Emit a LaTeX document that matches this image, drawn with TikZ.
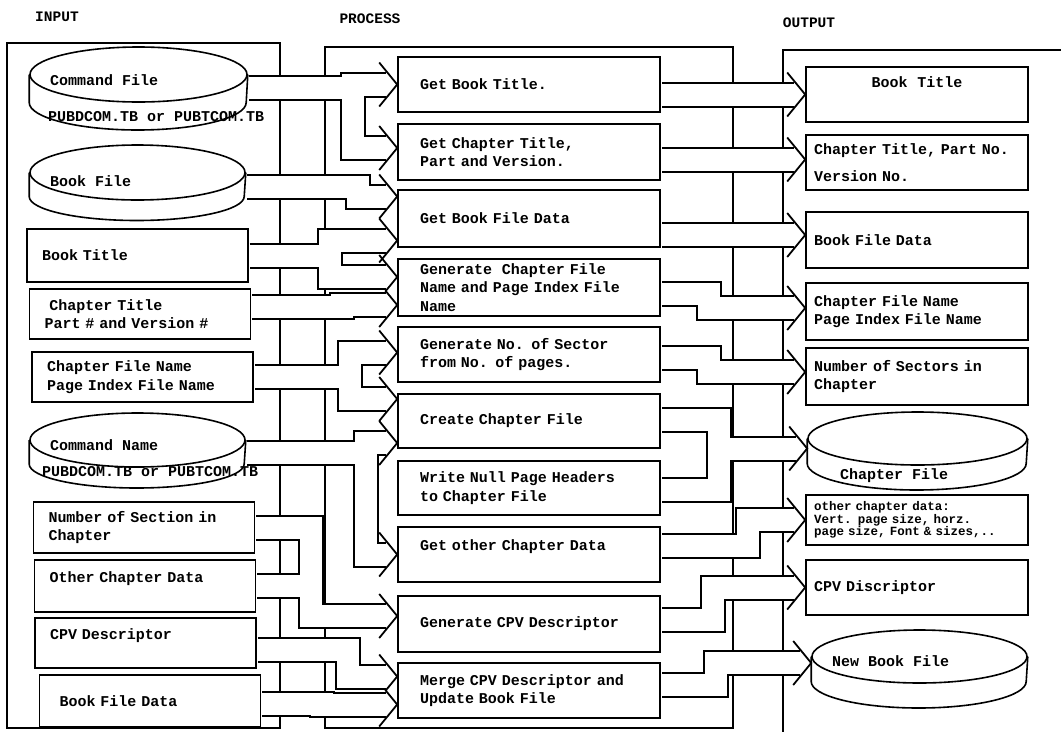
\documentclass[tikz,border=0pt]{standalone}
\usepackage{fontspec}
\setmonofont{Liberation Mono}
\usetikzlibrary{calc, shapes.geometric}

\tikzset{
  txt/.style={font=\fontsize{15}{18.5}\selectfont\ttfamily\bfseries},
  head/.style={font=\fontsize{14.5}{16}\selectfont\ttfamily\bfseries},
  frame/.style={draw, line width=1.6pt},
  inbox/.style={txt, draw, line width=1.6pt, minimum width=221pt, minimum height=51pt,
    text width=191pt, inner xsep=15pt, inner ysep=2pt, align=left},
  procbox/.style={txt, draw, line width=1.6pt, minimum width=262pt, minimum height=55pt,
    text width=218pt, inner xsep=22pt, inner ysep=2pt, align=left},
  outbox/.style={txt, draw, line width=1.6pt, minimum width=222pt, minimum height=55pt,
    text width=206pt, inner xsep=8pt, inner ysep=2pt, align=left},
  disk/.style={ellipse, draw, line width=1.6pt, inner sep=0pt},
  tag/.style={txt, inner sep=0pt, anchor=west},
  chev/.pic={\draw[line width=1.8pt] (-18,-22) -- (0,0) -- (-18,22);},
  zig/.pic={\draw[line width=1.8pt] (-18,-22) -- (0,0) -- (-11.5,14) -- (0,28) -- (-18,50);},
}

% wide HIPO arrows, drawn twice (black, then white core)
\newcommand\ribbons{%
  \draw[band] ($(cmdfile.east)+(1,13)$) -- ++(104,0) |- ($(p1.west)+(-11,0)$);
  \draw[band] ($(cmdfile.east)+(1,13)$) -- ++(104,0) |- ($(p2.west)+(-11,-4)$);
  \draw[band] ($(bookfile.east)+(1,14)$) -- ++(111,0) |- ($(p3.west)+(-11,-22)$);
  \draw[band] ($(bktitle_in.east)+(1,0)$) -- ++(80,0) |- ($(p3.west)+(-11,22)$);
  \draw[band] ($(bktitle_in.east)+(1,0)$) -- ++(80,0) |- ($(p4.west)+(-11,-10.5)$);
  \draw[band] ($(chtitle_in.east)+(1,-7)$) -- ++(90,0) |- ($(p4.west)+(-11,17.5)$);
  \draw[band] ($(chfname_in.east)+(1,0)$) -- ++(95,0) |- ($(p5.west)+(-11,-2)$);
  \draw[band] ($(chfname_in.east)+(1,0)$) -- ++(95,0) |- ($(p6.west)+(-11,-22)$);
  \draw[band] ($(cmdname.east)+(1,13)$) -- ++(119,0) |- ($(p6.west)+(-11,22)$);
  \draw[band] ($(cmdname.east)+(1,13)$) -- ++(119,0) |- ($(p8.west)+(-11,0)$);
  \draw[band] ($(nsec_in.east)+(1,0)$) -- ++(55,0) |- ($(p9.west)+(-11,-8)$);
  \draw[band] ($(othdata_in.east)+(1,0)$) -- ++(54,0) |- ($(p9.west)+(-11,-8)$);
  \draw[band] ($(cpv_in.east)+(1,7)$) -- ++(90,0) |- ($(p10.west)+(-11,-14)$);
  \draw[band] ($(bfdata_in.east)+(1,3)$) -- ++(60,0) |- ($(p10.west)+(-11,14)$);
  \draw[band] ($(p1.east)+(1,10)$) -- ($(o1.west)+(-11,0)$);
  \draw[band] ($(p2.east)+(1,7.5)$) -- ($(o2.west)+(-11,-3)$);
  \draw[band] ($(p3.east)+(1,16.5)$) -- ($(o3.west)+(-11,-5)$);
  \draw[band] ($(p4.east)+(1,6)$) -- ++(47,0) |- ($(o4.west)+(-11,-3.5)$);
  \draw[band] ($(p5.east)+(1,3.5)$) -- ++(47,0) |- ($(o5.west)+(-11,-4.5)$);
  \draw[band] ($(p6.east)+(1,-1)$) -- ++(57,0) |- ($(chfile.west)+(-11,10)$);
  \draw[band] ($(p7.east)+(1,2)$) -- ++(57,0) |- ($(chfile.west)+(-11,10)$);
  \draw[band] ($(p8.east)+(1,-8.5)$) -- ++(86,0) |- ($(o7.west)+(-11,0)$);
  \draw[band] ($(p9.east)+(1,-4)$) -- ++(51,0) |- ($(o8.west)+(-11,0)$);
  \draw[band] ($(p10.east)+(1,-5.5)$) -- ++(54,0) |- ($(newbook.west)+(-11,6.5)$);
}

\begin{document}
\begin{tikzpicture}[x=1pt, y=-1pt]
\useasboundingbox (0,0) rectangle (1061,732);

\node[head] (inhead) at (57,17) {INPUT};
\node[head] (prochead) at (370,19) {PROCESS};
\node[head] (outhead) at (809,23) {OUTPUT};

\draw[frame] (7,43) rectangle (280,728);
\draw[frame] (325,47) rectangle (733,728);
\draw[frame] (1061,50) -- (783,50) -- (783,732);

% input side
\node[disk, minimum width=217pt, minimum height=55pt] (cmdfile) at (138.5,74.5) {};
\draw[line width=1.6pt] (cmdfile.west) -- ++(0,28)
  arc[start angle=180, end angle=0, x radius=108.5, y radius=27.5] -- (cmdfile.east);
\node[disk, minimum width=215pt, minimum height=55pt] (bookfile) at (137.5,172.5) {};
\draw[line width=1.6pt] (bookfile.west) -- ++(0,24)
  arc[start angle=180, end angle=0, x radius=107.5, y radius=24] -- (bookfile.east);
\node[inbox, minimum height=53pt] (bktitle_in) at (137.5,255.5) {Book Title};
\node[inbox, minimum height=50pt] (chtitle_in) at (140,314) {~Chapter Title\\Part \# and Version \#};
\node[inbox, minimum height=50pt] (chfname_in) at (142.5,377) {Chapter File Name\\Page Index File Name};
\node[disk, minimum width=215pt, minimum height=54pt] (cmdname) at (137.5,440) {};
\draw[line width=1.6pt] (cmdname.west) -- ++(0,24)
  arc[start angle=180, end angle=0, x radius=107.5, y radius=24] -- (cmdname.east);
\node[inbox] (nsec_in) at (144,527.5) {Number of Section in\\Chapter};
\node[inbox, minimum height=52pt] (othdata_in) at (145,586) {Other Chapter Data\\~};
\node[inbox, minimum height=50pt] (cpv_in) at (145.5,643) {CPV Descriptor\\~};
\node[inbox, minimum height=52pt] (bfdata_in) at (150,701) {~Book File Data};

% process
\node[procbox] (p1) at (529,84.5) {Get Book Title.};
\node[procbox, minimum height=56pt] (p2) at (529,152) {Get Chapter Title,\\Part and Version.};
\node[procbox, minimum height=57pt] (p3) at (529,218.5) {Get Book File Data};
\node[procbox, minimum height=57pt] (p4) at (529,287.5) {Generate~ Chapter File\\Name and Page Index File\\Name};
\node[procbox] (p5) at (529,354.5) {Generate No. of Sector\\from No. of pages.};
\node[procbox, minimum height=54pt] (p6) at (529,421) {Create Chapter File};
\node[procbox, minimum height=54pt] (p7) at (529,488) {Write Null Page Headers\\to Chapter File};
\node[procbox] (p8) at (529,554.5) {Get other Chapter Data\\~};
\node[procbox, minimum height=56pt] (p9) at (529,624) {Generate CPV Descriptor};
\node[procbox] (p10) at (529,690.5) {Merge CPV Descriptor and\\Update Book File};

% output
\node[outbox, align=center] (o1) at (917,94.5) {Book~ Title\\[6pt]~};
\node[outbox] (o2) at (917,162.5) {Chapter Title, Part No.\\[9pt]Version No.};
\node[outbox, minimum height=56pt] (o3) at (917,240) {Book File Data};
\node[outbox, minimum height=57pt] (o4) at (917,311.5) {Chapter File Name\\Page Index File Name};
\node[outbox, minimum height=57pt] (o5) at (917,376.5) {Number of Sectors in\\Chapter};
\node[disk, minimum width=219pt, minimum height=53pt] (chfile) at (917.5,438.5) {};
\draw[line width=1.6pt] (chfile.west) -- ++(0,25)
  arc[start angle=180, end angle=0, x radius=109.5, y radius=26.5] -- (chfile.east);
\node[outbox, minimum height=50pt, font=\fontsize{12.5}{12.5}\selectfont\ttfamily\bfseries]
  (o7) at (917,520) {other chapter data:\\Vert. page size, horz.\\page size, Font \& sizes,..};
\node[outbox] (o8) at (917,587.5) {CPV Discriptor};
\node[disk, minimum width=215pt, minimum height=53pt] (newbook) at (919.5,656.5) {};
\draw[line width=1.6pt] (newbook.west) -- ++(0,25)
  arc[start angle=180, end angle=0, x radius=107.5, y radius=26.5] -- (newbook.east);

\begin{scope}[band/.style={line width=26pt, draw=black}]
  \ribbons
\end{scope}
\begin{scope}[band/.style={line width=22pt, draw=white}]
  \ribbons
\end{scope}

\pic at (p1.west) {chev};
\pic at ($(p2.west)+(0,-4)$) {chev};
\pic at ($(p3.west)+(0,-22)$) {chev};
\pic at ($(p3.west)+(0,22)$) {chev};
\pic at ($(p4.west)+(0,-10.5)$) {zig};
\pic at ($(p5.west)+(0,-2)$) {chev};
\pic at ($(p6.west)+(0,-22)$) {chev};
\pic at ($(p6.west)+(0,22)$) {chev};
\pic at (p8.west) {chev};
\pic at ($(p9.west)+(0,-8)$) {chev};
\pic at ($(p10.west)+(0,-14)$) {zig};
\pic at (o1.west) {chev};
\pic at ($(o2.west)+(0,-3)$) {chev};
\pic at ($(o3.west)+(0,-5)$) {chev};
\pic at ($(o4.west)+(0,-3.5)$) {chev};
\pic at ($(o5.west)+(0,-4.5)$) {chev};
\pic at ($(chfile.west)+(0,10)$) {chev};
\pic at (o7.west) {chev};
\pic at (o8.west) {chev};
\pic at ($(newbook.west)+(0,6.5)$) {chev};

\node[tag] (cmdfile_t1) at (50,80) {Command File};
\node[tag] (cmdfile_t2) at (48,117) {PUBDCOM.TB or PUBTCOM.TB};
\node[tag] (bookfile_t) at (50,181) {Book File};
\node[tag] (cmdname_t1) at (50,445) {Command Name};
\node[tag] (cmdname_t2) at (42,472) {PUBDCOM.TB or PUBTCOM.TB};
\node[tag] (chfile_t) at (840,476) {Chapter File};
\node[tag] (newbook_t) at (832,661) {New Book File};
\end{tikzpicture}
\end{document}
